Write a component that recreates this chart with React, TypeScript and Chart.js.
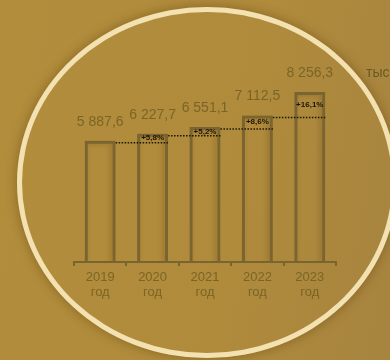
import React, { useEffect, useRef } from "react";
import { Chart, registerables } from "chart.js";

Chart.register(...registerables);

const years = ["2019", "2020", "2021", "2022", "2023"];
const yearSuffix = "год";
const values = [5887.6, 6227.7, 6551.1, 7112.5, 8256.3];
const valueLabels = ["5 887,6", "6 227,7", "6 551,1", "7 112,5", "8 256,3"];
const growthLabels = ["", "+5,8%", "+5,2%", "+8,6%", "+16,1%"];
const unitLabel = "тыс. руб.";

const FONT = "'Liberation Sans', Arial, sans-serif";
const BROWN = "#7a6430";
const TEXT = "#7a6526";

const labelPlugin = {
  id: "labels",
  beforeDatasetsDraw(chart: any) {
    const ctx = chart.ctx;
    ctx.save();
    ctx.shadowColor = "rgba(70,45,5,0.3)";
    ctx.shadowBlur = 5;
    ctx.shadowOffsetX = -2;
    ctx.shadowOffsetY = 0;
  },
  afterDatasetsDraw(chart: any) {
    const ctx = chart.ctx;
    ctx.restore();
    const bars = chart.getDatasetMeta(0).data;
    ctx.save();
    // dotted growth lines
    for (let i = 1; i < bars.length; i++) {
      const prev = bars[i - 1];
      const cur = bars[i];
      const ly = prev.y + 2;
      ctx.beginPath();
      ctx.setLineDash([1.5, 1.5]);
      ctx.strokeStyle = "#1c1608";
      ctx.lineWidth = 1.5;
      ctx.moveTo(prev.x + prev.width / 2, ly);
      ctx.lineTo(cur.x + cur.width / 2, ly);
      ctx.stroke();
      ctx.setLineDash([]);
      ctx.fillStyle = "#1c1608";
      ctx.font = `bold 8px ${FONT}`;
      ctx.textAlign = "center";
      ctx.textBaseline = "middle";
      ctx.fillText(growthLabels[i], cur.x, (cur.y + ly) / 2);
    }
    // value labels
    ctx.fillStyle = TEXT;
    ctx.font = `14px ${FONT}`;
    ctx.textAlign = "center";
    ctx.textBaseline = "middle";
    bars.forEach((b: any, i: number) => {
      ctx.fillText(valueLabels[i], b.x, b.y - 19);
    });
    // unit label
    const last = bars[bars.length - 1];
    ctx.fillStyle = "#6b5823";
    ctx.textAlign = "left";
    ctx.fillText(unitLabel, 366, last.y - 19);
    ctx.restore();
  },
};

export default function App() {
  const ref = useRef<HTMLCanvasElement>(null);
  useEffect(() => {
    const chart = new Chart(ref.current as HTMLCanvasElement, {
      type: "bar",
      data: {
        labels: years.map((y) => [y, yearSuffix]),
        datasets: [
          {
            data: values,
            backgroundColor: "rgba(0,0,0,0)",
            borderColor: BROWN,
            borderWidth: 3,
            barPercentage: 0.59,
            categoryPercentage: 1,
          },
        ],
      },
      options: {
        responsive: false,
        animation: false,
        events: [],
        layout: { padding: { left: 74, right: 54, top: 56, bottom: 38 } },
        plugins: { legend: { display: false }, tooltip: { enabled: false } },
        scales: {
          x: {
            grid: {
              display: true,
              drawOnChartArea: false,
              drawTicks: true,
              tickLength: 4,
              color: BROWN,
              lineWidth: 2,
              offset: true,
            },
            border: { display: true, color: BROWN, width: 2 },
            ticks: {
              color: TEXT,
              font: { family: FONT, size: 13, lineHeight: 1.15 },
              padding: 4,
              maxRotation: 0,
              autoSkip: false,
            },
            afterFit: (s: any) => {
              s.height = 60;
            },
          },
          y: { display: false, min: 0, max: 10000 },
        },
      },
      plugins: [labelPlugin],
    } as any);
    return () => chart.destroy();
  }, []);

  return (
    <div
      style={{
        position: "fixed",
        left: 0,
        top: 0,
        width: 390,
        height: 360,
        overflow: "hidden",
        background: "linear-gradient(100deg, #b28d3c 0%, #b08b3c 60%, #a7843f 100%)",
      }}
    >
      <div
        style={{
          position: "absolute",
          left: 17,
          top: 7,
          width: 380,
          height: 351,
          boxSizing: "border-box",
          borderRadius: "50%",
          border: "5px solid #f3e1b1",
          boxShadow: "0 0 10px 2px rgba(90,60,10,0.35)",
        }}
      />
      <canvas
        ref={ref}
        width={390}
        height={360}
        style={{ position: "absolute", left: 0, top: 0 }}
      />
    </div>
  );
}
